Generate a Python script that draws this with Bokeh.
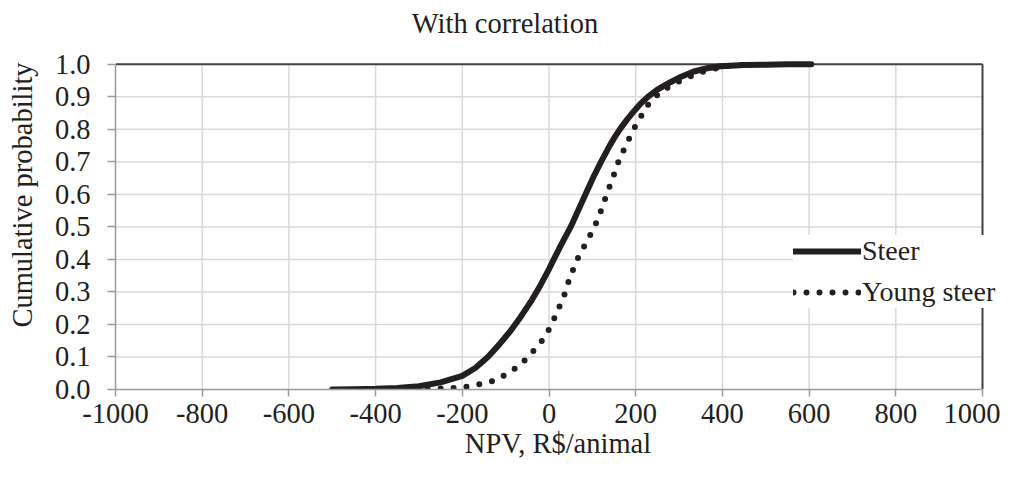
from bokeh.plotting import figure
from bokeh.models import (FixedTicker, NumeralTickFormatter, Legend, LegendItem,
                          Range1d, ColumnDataSource, Label)
from bokeh.embed import file_html
from bokeh.resources import INLINE

# ---- data ----
steer_npv = [-500, -450, -400, -350, -300, -250, -200, -170, -141, -115, -89, -65, -42, -20,
             0, 11, 30, 50, 67, 84, 103, 120, 140, 152, 165, 180, 196, 212, 228, 250, 280,
             305, 334, 365, 396, 450, 500, 550, 605]
steer_p = [0.0, 0.001, 0.002, 0.005, 0.010, 0.022, 0.042, 0.066, 0.100, 0.138, 0.180, 0.224,
           0.270, 0.320, 0.370, 0.400, 0.450, 0.500, 0.550, 0.600, 0.655, 0.700, 0.750,
           0.777, 0.803, 0.830, 0.856, 0.880, 0.900, 0.922, 0.945, 0.962, 0.978, 0.988,
           0.994, 0.998, 0.999, 1.0, 1.0]

young_npv = [-340, -300, -273, -241, -212, -183, -154, -129, -108, -87, -70, -54, -39, -24,
             -8, 11, 34, 47, 65, 85, 105, 120, 133, 147, 160, 177, 195, 210, 225, 240, 269,
             303, 349, 400, 450]
young_p = [0.0, 0.001, 0.002, 0.003, 0.005, 0.010, 0.018, 0.026, 0.040, 0.056, 0.073, 0.092,
           0.114, 0.138, 0.163, 0.215, 0.285, 0.340, 0.400, 0.450, 0.500, 0.550, 0.600,
           0.650, 0.700, 0.750, 0.800, 0.835, 0.870, 0.895, 0.925, 0.950, 0.975, 0.993,
           0.999]

x_ticks = [-1000, -800, -600, -400, -200, 0, 200, 400, 600, 800, 1000]
y_ticks = [0.0, 0.1, 0.2, 0.3, 0.4, 0.5, 0.6, 0.7, 0.8, 0.9, 1.0]

title_text = "With correlation"
x_label = "NPV, R$/animal"
y_label = "Cumulative probability"
series_names = ["Steer", "Young steer"]

FONT = "Liberation Serif"
FS = "28.5px"
TXT = "#231f20"
INK = "#231f20"
GRID = "#d9d9d9"
AXIS = "#9a9a9a"
BORDER = "#404040"

# ---- layout (pixels) ----
W, H = 1000, 461
LEFT = 115          # canvas x of NPV = -1000
AXIS_RIGHT = 982    # canvas x of NPV = 1000
TOP_PX = 64         # canvas y of probability 1.0
BOTTOM_PX = 390     # canvas y of probability 0.0
# the frame covers the whole area right of / above the axes, so the legend and the
# title (clipped to the frame) can sit where the reference has them
x_per_px = (x_ticks[-1] - x_ticks[0]) / (AXIS_RIGHT - LEFT)
x_end = x_ticks[-1] + (W - AXIS_RIGHT) * x_per_px
y_end = y_ticks[-1] + TOP_PX * (y_ticks[-1] - y_ticks[0]) / (BOTTOM_PX - TOP_PX)

p = figure(width=W, height=H, output_backend="svg", toolbar_location=None,
           x_range=Range1d(x_ticks[0], x_end), y_range=Range1d(y_ticks[0], y_end),
           min_border_left=LEFT, min_border_right=0, min_border_top=0,
           min_border_bottom=H - BOTTOM_PX)

p.outline_line_color = None
p.background_fill_color = "white"
p.border_fill_color = "white"

for ax in (p.xaxis[0], p.yaxis[0]):
    ax.axis_line_color = AXIS
    ax.axis_line_width = 1.5
    ax.major_tick_line_color = AXIS
    ax.major_tick_line_width = 1.5
    ax.major_tick_in = 0
    ax.minor_tick_line_color = None
    ax.major_label_text_font = FONT
    ax.major_label_text_font_size = FS
    ax.major_label_text_color = TXT
    ax.axis_label_text_font = FONT
    ax.axis_label_text_font_size = FS
    ax.axis_label_text_font_style = "normal"
    ax.axis_label_text_color = TXT

p.xaxis[0].ticker = FixedTicker(ticks=x_ticks)
p.xaxis[0].bounds = (x_ticks[0], x_ticks[-1])
p.xaxis[0].formatter = NumeralTickFormatter(format="0")
p.xaxis[0].major_tick_out = 7
p.xaxis[0].major_label_standoff = 7
p.xaxis[0].axis_label = x_label
p.xaxis[0].axis_label_standoff = 2

p.yaxis[0].ticker = FixedTicker(ticks=y_ticks)
p.yaxis[0].bounds = (y_ticks[0], y_ticks[-1])
p.yaxis[0].formatter = NumeralTickFormatter(format="0.0")
p.yaxis[0].major_tick_out = 8
p.yaxis[0].major_label_standoff = 17
p.yaxis[0].axis_label = y_label
p.yaxis[0].axis_label_standoff = 14

# gridlines limited to the plot area
p.xgrid[0].grid_line_color = None
p.ygrid[0].grid_line_color = None
gx = x_ticks[1:-1]
p.segment(x0=gx, x1=gx, y0=[y_ticks[0]] * len(gx), y1=[y_ticks[-1]] * len(gx),
          line_color=GRID, line_width=1.5)
gy = y_ticks[1:-1]
p.segment(x0=[x_ticks[0]] * len(gy), x1=[x_ticks[-1]] * len(gy), y0=gy, y1=gy,
          line_color=GRID, line_width=1.5)
# dark border on top (probability 1.0) and right (NPV 1000)
p.segment(x0=[x_ticks[0], x_ticks[-1]], x1=[x_ticks[-1], x_ticks[-1]],
          y0=[y_ticks[-1], y_ticks[0]], y1=[y_ticks[-1], y_ticks[-1]],
          line_color=BORDER, line_width=2)

src_s = ColumnDataSource(dict(x=steer_npv, y=steer_p))
src_y = ColumnDataSource(dict(x=young_npv, y=young_p))

r_steer = p.line("x", "y", source=src_s, line_color=INK, line_width=6,
                 line_cap="round", line_join="round")
r_young = p.line("x", "y", source=src_y, line_color=INK, line_width=6,
                 line_dash="0 13", line_cap="round")

# title, positioned relative to the frame (screen units)
p.add_layout(Label(x=389.5, y=BOTTOM_PX - 24, x_units="screen", y_units="screen",
                   text=title_text, text_font=FONT, text_font_size=FS, text_color=TXT,
                   text_align="center", text_baseline="alphabetic"))

legend = Legend(items=[LegendItem(label=series_names[0], renderers=[r_steer]),
                       LegendItem(label=series_names[1], renderers=[r_young])],
                location=(678, 81), orientation="vertical",
                background_fill_color="white", background_fill_alpha=1.0,
                border_line_color=None, margin=0, padding=7,
                glyph_width=68, glyph_height=20, label_standoff=1,
                label_text_font=FONT, label_text_font_size="28px",
                label_text_color=TXT, spacing=9)
p.add_layout(legend)

open("out.html", "w").write(file_html(p, INLINE))
